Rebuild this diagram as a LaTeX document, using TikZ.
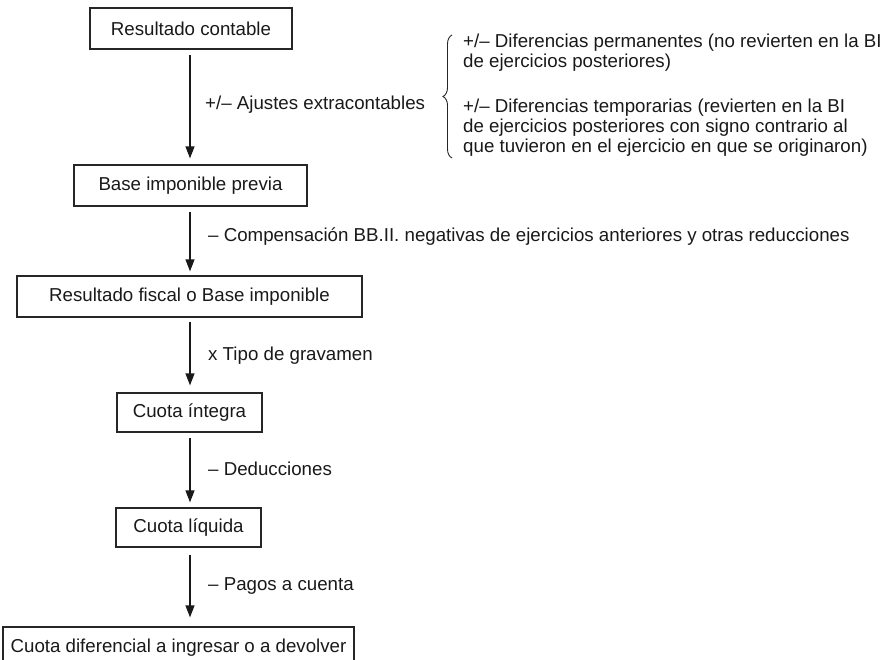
\documentclass[tikz,border=0pt]{standalone}
\usepackage{fontspec}
\setmainfont{Liberation Sans}
\usetikzlibrary{arrows.meta,decorations.pathreplacing}
\begin{document}
\begin{tikzpicture}[x=1pt,y=-1pt,
  every node/.style={font=\fontsize{18.7}{20}\selectfont, text=black!90},
  box/.style={draw=black!85, line width=1.3pt, inner sep=0pt, minimum height=41pt},
  arr/.style={draw=black!90, line width=1.3pt, -{Triangle[length=12pt,width=9pt]}},
  lbl/.style={anchor=west, inner sep=0pt},
  side/.style={anchor=west, inner sep=0pt, align=left}]
\useasboundingbox (0,0) rectangle (885,659);
\node[box, minimum width=202pt] (b1) at (191,28.5) {Resultado contable};
\node[box, minimum width=233pt] (b2) at (190.5,185.5) {Base imponible previa};
\node[box, minimum width=345pt] (b3) at (189.5,296.5) {Resultado fiscal o Base imponible};
\node[box, minimum width=145pt, minimum height=39pt] (b4) at (189.5,412.5) {Cuota íntegra};
\node[box, minimum width=145pt, minimum height=39pt] (b5) at (188.5,527.5) {Cuota líquida};
\node[box, minimum width=351pt] (b6) at (178.5,647.5) {Cuota diferencial a ingresar o a devolver};

\coordinate (ax) at (190,0);
\draw[arr, shorten <=5pt, shorten >=6pt] (b1.south -| ax) -- (b2.north -| ax);
\draw[arr, shorten <=5pt, shorten >=4pt] (b2.south -| ax) -- (b3.north -| ax);
\draw[arr, shorten <=4pt, shorten >=7pt] (b3.south -| ax) -- (b4.north -| ax);
\draw[arr, shorten <=5pt, shorten >=5pt] (b4.south -| ax) -- (b5.north -| ax);
\draw[arr, shorten <=7pt, shorten >=9pt] (b5.south -| ax) -- (b6.north -| ax);

\node[lbl] (l1) at (205,105) {+/– Ajustes extracontables};
\node[lbl] (l2) at (208,237) {– Compensación BB.II. negativas de ejercicios anteriores y otras reducciones};
\node[lbl] (l3) at (208,356) {x Tipo de gravamen};
\node[lbl] (l4) at (208,469) {– Deducciones};
\node[lbl] (l5) at (208,586) {– Pagos a cuenta};

\coordinate (bt) at (452,158);
\coordinate (bb) at (452,35);
\draw[black!85, line width=0.9pt, decorate, decoration={brace, amplitude=9pt, aspect=0.5}] (bt) -- (bb);

\node[side] (s1) at (463,53) {+/– Diferencias permanentes (no revierten en la BI\\de ejercicios posteriores)};
\node[side] (s2) at (463,128) {+/– Diferencias temporarias (revierten en la BI\\de ejercicios posteriores con signo contrario al\\que tuvieron en el ejercicio en que se originaron)};
\end{tikzpicture}
\end{document}
